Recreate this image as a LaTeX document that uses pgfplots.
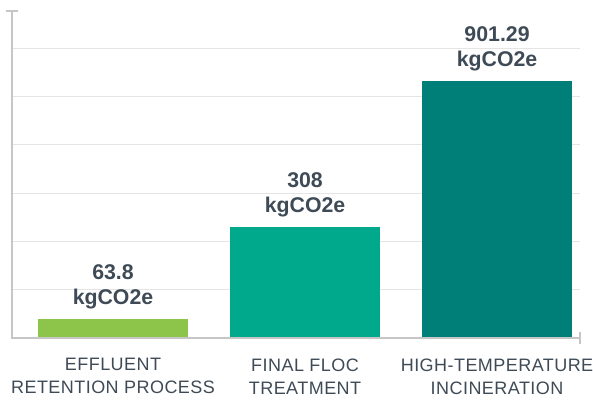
\documentclass[border=0pt]{standalone}
\usepackage{pgfplots}
\pgfplotsset{compat=1.18}
\usepackage{fontspec}
\setmainfont{Liberation Sans}
\definecolor{txt}{HTML}{3E4A56}
\definecolor{cA}{HTML}{8DC54B}
\definecolor{cB}{HTML}{00A88C}
\definecolor{cC}{HTML}{007F78}
\definecolor{gridc}{HTML}{E4E4E4}
\definecolor{axc}{HTML}{C6C6C6}
\begin{document}
\begin{tikzpicture}[x=1bp,y=1bp]
\path[use as bounding box] (-12,-61) rectangle (581,338);
\begin{axis}[at={(0,0)}, anchor=south west, scale only axis,
  width=568bp, height=327bp,
  xmin=-0.526, xmax=2.432, ymin=0, ymax=6.77,
  axis line style={draw=none},
  xtick={0,1,2},
  xticklabels={{EFFLUENT\\RETENTION PROCESS},{FINAL FLOC\\TREATMENT},{HIGH-TEMPERATURE\\INCINERATION}},
  xticklabel style={font=\fontsize{18bp}{23bp}\selectfont\addfontfeature{LetterSpace=2.5}, text=txt, align=center, yshift=-17bp},
  ytick={1,2,3,4,5,6}, yticklabels={},
  major tick length=0pt,
  ymajorgrids, grid style={gridc, line width=1.2bp},
  ybar, bar width=150bp, bar shift=0pt,
  clip=false,
]
\addplot[fill=cA, draw=none] coordinates {(0,0.39)};
\addplot[fill=cB, draw=none] coordinates {(1,2.30)};
\addplot[fill=cC, draw=none] coordinates {(2,5.32)};
\draw[axc, line width=2bp] (rel axis cs:0,1) -- (rel axis cs:0,0) -- (rel axis cs:1,0);
\draw[axc, line width=2bp] ([xshift=-6bp]rel axis cs:0,1) -- ([xshift=6bp]rel axis cs:0,1);
\draw[axc, line width=2bp] ([yshift=-6bp]rel axis cs:1,0) -- ([yshift=6bp]rel axis cs:1,0);
\tikzset{vl/.style={anchor=south, inner sep=0pt, yshift=10bp, align=center, text=txt, font=\fontsize{21.3bp}{25bp}\selectfont\bfseries}}
\node[vl] at (axis cs:0,0.39) {63.8\\kgCO2e};
\node[vl] at (axis cs:1,2.30) {308\\kgCO2e};
\node[vl] at (axis cs:2,5.32) {901.29\\kgCO2e};
\end{axis}
\end{tikzpicture}
\end{document}
